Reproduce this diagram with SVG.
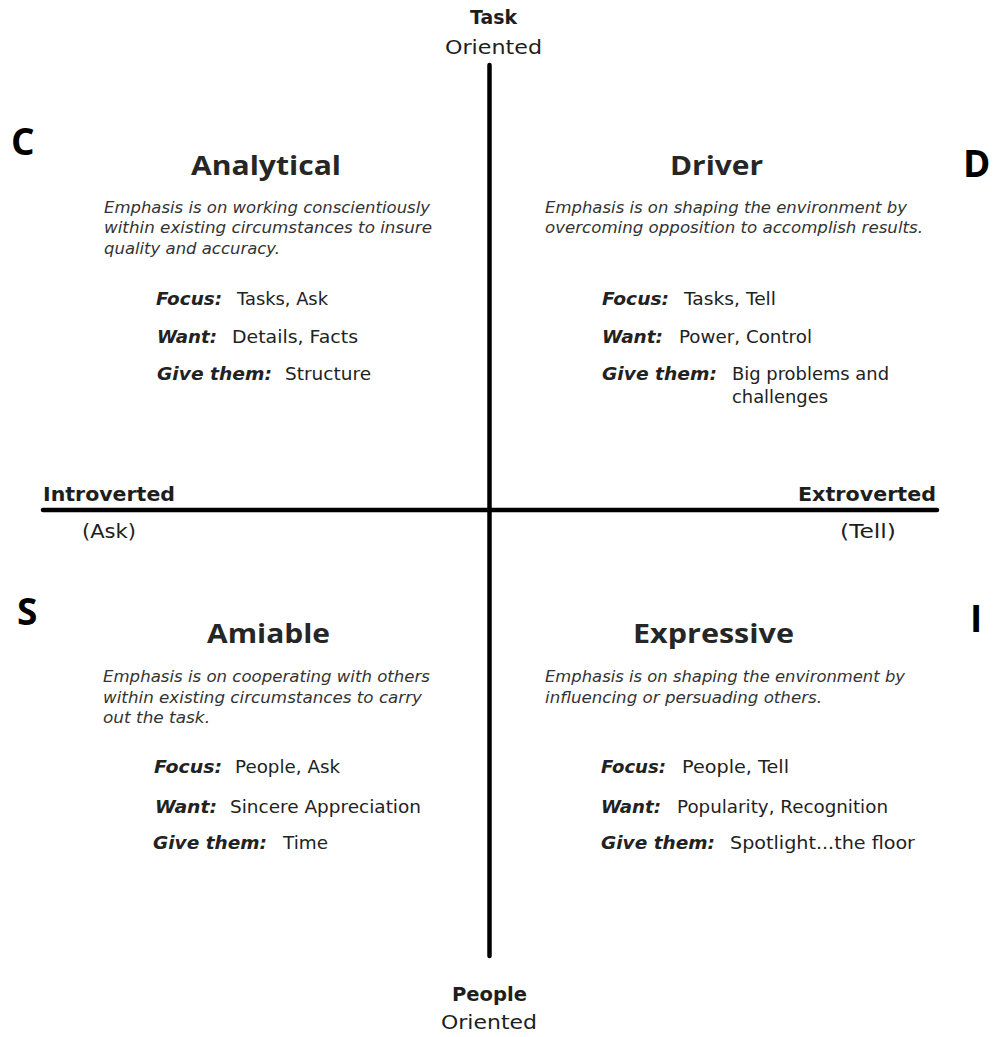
<svg xmlns="http://www.w3.org/2000/svg" width="993" height="1037" viewBox="0 0 993 1037">
<style>
text{font-family:"DejaVu Sans","Liberation Sans",sans-serif;fill:#1e1e1e}
.letter{font-family:"Open Sans","Liberation Sans",sans-serif;font-weight:700;font-size:37px;fill:#000}
.title{font-family:"Open Sans","DejaVu Sans",sans-serif;font-size:27px;font-weight:700;fill:#262626}
.desc{font-size:15px;font-style:italic;fill:#333}
.key{font-size:18px;font-style:italic;font-weight:700;fill:#222}
.val{font-size:18px;fill:#222}
.axb{font-size:19px;font-weight:700}
.axr{font-size:20px}
.axis{stroke:#000;stroke-width:4.5;stroke-linecap:round;fill:none}
</style>
<rect width="993" height="1037" fill="#fff"/>
<g id="axes">
<line class="axis" x1="489.5" y1="65" x2="489.5" y2="956"/>
<line class="axis" x1="43" y1="510" x2="937" y2="510"/>
</g>
<g id="axis-labels">
<text class="axb" x="470" y="24" textLength="47" lengthAdjust="spacingAndGlyphs">Task</text>
<text class="axr" x="445" y="54" textLength="97" lengthAdjust="spacingAndGlyphs">Oriented</text>
<text class="axb" x="452" y="1001" textLength="75" lengthAdjust="spacingAndGlyphs">People</text>
<text class="axr" x="441" y="1029" textLength="96" lengthAdjust="spacingAndGlyphs">Oriented</text>
<text class="axb" x="43" y="501" textLength="132" lengthAdjust="spacingAndGlyphs">Introverted</text>
<text class="axr" x="82" y="538" textLength="54" lengthAdjust="spacingAndGlyphs">(Ask)</text>
<text class="axb" x="798" y="501" textLength="138" lengthAdjust="spacingAndGlyphs">Extroverted</text>
<text class="axr" x="840" y="538" textLength="56" lengthAdjust="spacingAndGlyphs">(Tell)</text>
</g>
<g id="letters">
<text class="letter" x="11" y="155">C</text>
<text class="letter" x="963" y="177">D</text>
<text class="letter" x="17" y="625">S</text>
<text class="letter" x="970" y="632">I</text>
</g>
<g id="analytical">
<text class="title" x="191" y="175" textLength="150" lengthAdjust="spacingAndGlyphs">Analytical</text>
<text class="desc" x="104" y="213" textLength="326" lengthAdjust="spacingAndGlyphs">Emphasis is on working conscientiously</text>
<text class="desc" x="104" y="233" textLength="328" lengthAdjust="spacingAndGlyphs">within existing circumstances to insure</text>
<text class="desc" x="104" y="254" textLength="176" lengthAdjust="spacingAndGlyphs">quality and accuracy.</text>
<text class="key" x="156" y="305" textLength="66" lengthAdjust="spacingAndGlyphs">Focus:</text>
<text class="val" x="237" y="305" textLength="91" lengthAdjust="spacingAndGlyphs">Tasks, Ask</text>
<text class="key" x="157" y="343" textLength="60" lengthAdjust="spacingAndGlyphs">Want:</text>
<text class="val" x="232" y="343" textLength="126" lengthAdjust="spacingAndGlyphs">Details, Facts</text>
<text class="key" x="157" y="380" textLength="115" lengthAdjust="spacingAndGlyphs">Give them:</text>
<text class="val" x="285" y="380" textLength="86" lengthAdjust="spacingAndGlyphs">Structure</text>
</g>
<g id="driver">
<text class="title" x="670" y="175" textLength="93" lengthAdjust="spacingAndGlyphs">Driver</text>
<text class="desc" x="545" y="213" textLength="362" lengthAdjust="spacingAndGlyphs">Emphasis is on shaping the environment by</text>
<text class="desc" x="545" y="233" textLength="378" lengthAdjust="spacingAndGlyphs">overcoming opposition to accomplish results.</text>
<text class="key" x="602" y="305" textLength="67" lengthAdjust="spacingAndGlyphs">Focus:</text>
<text class="val" x="684" y="305" textLength="92" lengthAdjust="spacingAndGlyphs">Tasks, Tell</text>
<text class="key" x="602" y="343" textLength="61" lengthAdjust="spacingAndGlyphs">Want:</text>
<text class="val" x="679" y="343" textLength="133" lengthAdjust="spacingAndGlyphs">Power, Control</text>
<text class="key" x="602" y="380" textLength="115" lengthAdjust="spacingAndGlyphs">Give them:</text>
<text class="val" x="732" y="380" textLength="157" lengthAdjust="spacingAndGlyphs">Big problems and</text>
<text class="val" x="732" y="403" textLength="96" lengthAdjust="spacingAndGlyphs">challenges</text>
</g>
<g id="amiable">
<text class="title" x="207" y="643" textLength="123" lengthAdjust="spacingAndGlyphs">Amiable</text>
<text class="desc" x="103" y="682" textLength="327" lengthAdjust="spacingAndGlyphs">Emphasis is on cooperating with others</text>
<text class="desc" x="103" y="703" textLength="319" lengthAdjust="spacingAndGlyphs">within existing circumstances to carry</text>
<text class="desc" x="103" y="723" textLength="107" lengthAdjust="spacingAndGlyphs">out the task.</text>
<text class="key" x="154" y="773" textLength="68" lengthAdjust="spacingAndGlyphs">Focus:</text>
<text class="val" x="235" y="773" textLength="105" lengthAdjust="spacingAndGlyphs">People, Ask</text>
<text class="key" x="155" y="813" textLength="62" lengthAdjust="spacingAndGlyphs">Want:</text>
<text class="val" x="230" y="813" textLength="191" lengthAdjust="spacingAndGlyphs">Sincere Appreciation</text>
<text class="key" x="153" y="849" textLength="114" lengthAdjust="spacingAndGlyphs">Give them:</text>
<text class="val" x="283" y="849" textLength="45" lengthAdjust="spacingAndGlyphs">Time</text>
</g>
<g id="expressive">
<text class="title" x="633" y="643" textLength="161" lengthAdjust="spacingAndGlyphs">Expressive</text>
<text class="desc" x="545" y="682" textLength="360" lengthAdjust="spacingAndGlyphs">Emphasis is on shaping the environment by</text>
<text class="desc" x="545" y="703" textLength="277" lengthAdjust="spacingAndGlyphs">influencing or persuading others.</text>
<text class="key" x="601" y="773" textLength="65" lengthAdjust="spacingAndGlyphs">Focus:</text>
<text class="val" x="682" y="773" textLength="107" lengthAdjust="spacingAndGlyphs">People, Tell</text>
<text class="key" x="601" y="813" textLength="60" lengthAdjust="spacingAndGlyphs">Want:</text>
<text class="val" x="677" y="813" textLength="211" lengthAdjust="spacingAndGlyphs">Popularity, Recognition</text>
<text class="key" x="601" y="849" textLength="114" lengthAdjust="spacingAndGlyphs">Give them:</text>
<text class="val" x="730" y="849" textLength="185" lengthAdjust="spacingAndGlyphs">Spotlight...the floor</text>
</g>
</svg>
